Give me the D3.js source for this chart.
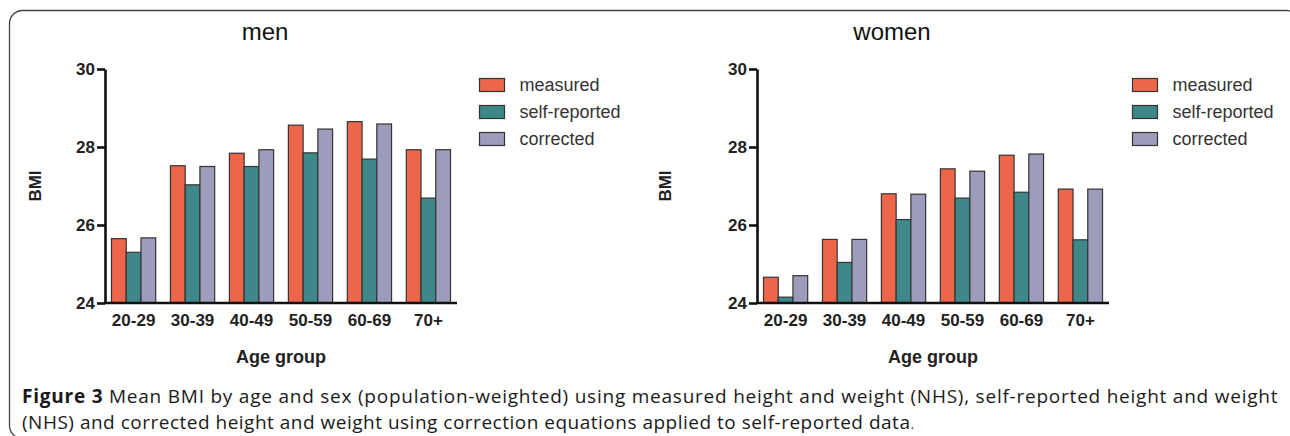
<!DOCTYPE html>
<html>
<head>
<meta charset="utf-8">
<script src="https://cdn.jsdelivr.net/npm/d3@7"></script>
<style>
  html, body { margin: 0; padding: 0; background: #fff; }
  svg { display: block; }
</style>
</head>
<body>
<div id="chart"></div>
<script>
// Age groups and series
const ageGroups = ["20-29", "30-39", "40-49", "50-59", "60-69", "70+"];
const seriesNames = ["measured", "self-reported", "corrected"];
const seriesColors = ["#ee664a", "#3e888a", "#9d9dbb"];

// Mean BMI, men
const menMeasured = [25.65, 27.52, 27.84, 28.56, 28.65, 27.93];
const menSelf = [25.30, 27.03, 27.50, 27.85, 27.69, 26.69];
const menCorrected = [25.67, 27.50, 27.93, 28.46, 28.59, 27.93];

// Mean BMI, women
const womenMeasured = [24.66, 25.63, 26.80, 27.44, 27.79, 26.92];
const womenSelf = [24.15, 25.04, 26.14, 26.69, 26.84, 25.62];
const womenCorrected = [24.70, 25.63, 26.79, 27.38, 27.82, 26.92];

const yTicks = [24, 26, 28, 30];

const width = 1290, height = 436;
const svg = d3.select("#chart").append("svg")
    .attr("width", width)
    .attr("height", height);

// outer frame
svg.append("rect")
    .attr("x", 9.5).attr("y", 10.5)
    .attr("width", 1290).attr("height", 428)
    .attr("rx", 13).attr("ry", 13)
    .attr("fill", "none")
    .attr("stroke", "#444")
    .attr("stroke-width", 1.3);

const axisFont = "'Liberation Sans', Arial, sans-serif";

function drawPanel(title, titleX, x0, bmiX, values, legendX) {
    const g = svg.append("g");

    const x = d3.scaleBand()
        .domain(ageGroups)
        .range([x0, x0 + 352])
        .paddingInner(0.25)
        .paddingOuter(0.11);

    const xs = d3.scaleBand()
        .domain(seriesNames)
        .range([0, x.bandwidth()]);

    const y = d3.scaleLinear()
        .domain([24, 30])
        .range([303, 69]);

    // bars
    seriesNames.forEach((s, i) => {
        g.append("g").selectAll("rect")
            .data(values[i])
            .enter().append("rect")
            .attr("x", (d, j) => x(ageGroups[j]) + xs(s))
            .attr("y", d => y(d))
            .attr("width", xs.bandwidth())
            .attr("height", d => y(24) - y(d))
            .attr("fill", seriesColors[i])
            .attr("stroke", "#333")
            .attr("stroke-width", 1.2);
    });

    // y axis
    const yAxis = g.append("g")
        .attr("transform", `translate(${x0},0)`)
        .call(d3.axisLeft(y).tickValues(yTicks).tickFormat(d3.format("d"))
            .tickSize(8).tickPadding(2).tickSizeOuter(0));
    yAxis.select(".domain").attr("stroke", "#111").attr("stroke-width", 2.6);
    yAxis.selectAll(".tick line").attr("stroke", "#111").attr("stroke-width", 2.6);
    yAxis.selectAll("text")
        .attr("font-family", axisFont)
        .attr("font-weight", "bold")
        .attr("font-size", 17)
        .attr("fill", "#222");

    // x axis
    const xAxis = g.append("g")
        .attr("transform", `translate(0,${y(24)})`)
        .call(d3.axisBottom(x).tickSize(0).tickPadding(11).tickSizeOuter(0));
    xAxis.select(".domain")
        .attr("d", `M${x0 - 1},0H${x0 + 352}`)
        .attr("stroke", "#111").attr("stroke-width", 2.6);
    xAxis.selectAll("text")
        .attr("font-family", axisFont)
        .attr("font-weight", "bold")
        .attr("font-size", 17)
        .attr("fill", "#222");

    // axis labels
    g.append("text")
        .attr("transform", `translate(${bmiX},186) rotate(-90)`)
        .attr("text-anchor", "middle")
        .attr("font-family", axisFont)
        .attr("font-weight", "bold")
        .attr("font-size", 17)
        .attr("fill", "#222")
        .text("BMI");

    g.append("text")
        .attr("x", x0 + 176)
        .attr("y", 363)
        .attr("text-anchor", "middle")
        .attr("font-family", axisFont)
        .attr("font-weight", "bold")
        .attr("font-size", 18)
        .attr("fill", "#222")
        .text("Age group");

    // title
    g.append("text")
        .attr("x", titleX)
        .attr("y", 40)
        .attr("text-anchor", "middle")
        .attr("font-family", axisFont)
        .attr("font-size", 24)
        .attr("fill", "#111")
        .text(title);

    // legend
    const leg = g.append("g").selectAll("g")
        .data(seriesNames)
        .enter().append("g")
        .attr("transform", (d, i) => `translate(${legendX},${78.5 + i * 27})`);
    leg.append("rect")
        .attr("width", 25).attr("height", 13)
        .attr("fill", (d, i) => seriesColors[i])
        .attr("stroke", "#333")
        .attr("stroke-width", 1.2);
    leg.append("text")
        .attr("x", 40)
        .attr("y", 12)
        .attr("font-family", axisFont)
        .attr("font-size", 18)
        .attr("fill", "#333")
        .text(d => d);
}

drawPanel("men", 265, 105, 41, [menMeasured, menSelf, menCorrected], 479.5);
drawPanel("women", 892, 757, 671, [womenMeasured, womenSelf, womenCorrected], 1132.5);

// caption
const capFont = "'Open Sans', 'Noto Sans', sans-serif";
const cap1 = svg.append("text")
    .attr("x", 22)
    .attr("y", 403)
    .attr("font-family", capFont)
    .attr("font-size", 19)
    .attr("letter-spacing", 0.5)
    .attr("fill", "#1a1a1a")
    .attr("textLength", 1256)
    .attr("lengthAdjust", "spacing");
cap1.append("tspan").attr("font-weight", "bold").text("Figure 3");
cap1.append("tspan").text(" Mean BMI by age and sex (population-weighted) using measured height and weight (NHS), self-reported height and weight");

const cap2 = svg.append("text")
    .attr("x", 22)
    .attr("y", 429)
    .attr("font-family", capFont)
    .attr("font-size", 19)
    .attr("letter-spacing", 0.5)
    .attr("fill", "#1a1a1a");
cap2.append("tspan").text("(NHS) and corrected height and weight using correction equations applied to self-reported data");
cap2.append("tspan").attr("font-size", 13).text(".");
</script>
</body>
</html>
